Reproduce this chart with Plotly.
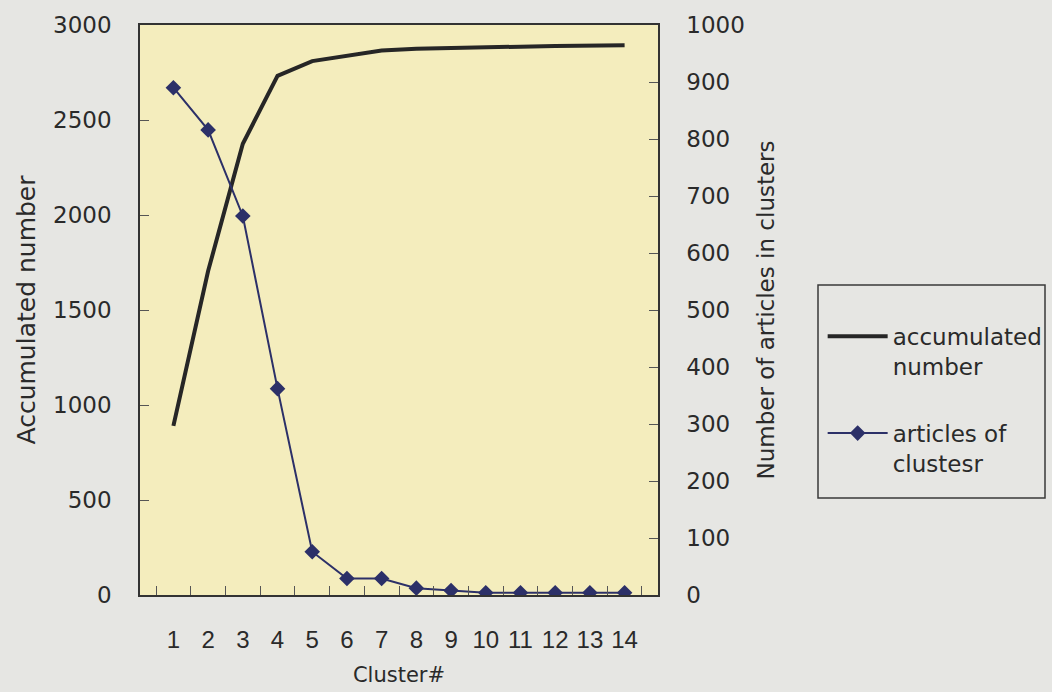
import plotly.graph_objects as go

clusters = [str(i) for i in range(1, 15)]
accumulated = [890, 1705, 2375, 2732, 2810, 2838, 2866, 2875, 2880, 2883, 2886, 2889, 2891, 2893]
articles = [890, 816, 665, 362, 76, 29, 29, 12, 8, 4, 4, 4, 4, 4]

FONT = "DejaVu Sans"
TXT = "#2a2a2a"

fig = go.Figure()
fig.add_trace(go.Scatter(
    x=clusters, y=accumulated, name="accumulated<br>number", mode="lines",
    line=dict(color="#262626", width=4), legendgroup="a", yaxis="y"))
fig.add_trace(go.Scatter(
    x=clusters, y=articles, name="articles of<br>clustesr", mode="lines+markers",
    line=dict(color="#2c3068", width=2),
    marker=dict(symbol="diamond", size=12, color="#2c3068"),
    legendgroup="b", yaxis="y2"))

# legend frame (drawn as a shape so it can have the reference's padding)
fig.add_shape(type="rect", xref="paper", yref="paper",
              x0=(818 - 140) / 518, x1=(1045 - 140) / 518,
              y0=(595 - 498) / 570, y1=(595 - 285) / 570,
              line=dict(color="#3a3a3a", width=1.5), fillcolor="rgba(0,0,0,0)",
              layer="above")

fig.update_layout(
    width=1052, height=692,
    margin=dict(l=140, r=394, t=25, b=97),
    paper_bgcolor="#e6e6e3",
    plot_bgcolor="#f4edbd",
    font=dict(family=FONT, size=22, color=TXT),
    showlegend=True,
    legend=dict(
        xref="container", yref="container",
        x=0.782, xanchor="left", y=0.545, yanchor="top",
        bgcolor="rgba(0,0,0,0)", borderwidth=0,
        font=dict(family=FONT, size=23, color=TXT),
        traceorder="grouped", tracegroupgap=34, itemwidth=60,
        valign="top",
    ),
    xaxis=dict(
        type="category", tickson="boundaries", ticks="inside", ticklen=9,
        tickcolor="#555", showline=True, linecolor="#333", linewidth=1.5,
        mirror=True, showgrid=False, zeroline=False, tickangle=0,
        automargin=False,
        tickfont=dict(family="Liberation Sans", size=24), ticklabelstandoff=22,
        title=dict(text="Cluster#", font=dict(size=21), standoff=16),
    ),
    yaxis=dict(
        range=[0, 3000], dtick=500, ticks="inside", ticklen=9, tickcolor="#555",
        showline=True, linecolor="#333", linewidth=1.5, showgrid=False,
        zeroline=False, tickfont=dict(size=23), ticklabelstandoff=22,
        automargin=False,
        title=dict(text="Accumulated number", font=dict(size=25), standoff=10),
    ),
    yaxis2=dict(
        range=[0, 1000], dtick=100, overlaying="y", side="right",
        ticks="inside", ticklen=9, tickcolor="#555",
        showline=True, linecolor="#333", linewidth=1.5, showgrid=False,
        zeroline=False, tickfont=dict(size=23), ticklabelstandoff=22,
        automargin=False,
        title=dict(text="Number of articles in clusters", font=dict(size=23), standoff=14),
    ),
)

fig.write_html("out.html")
